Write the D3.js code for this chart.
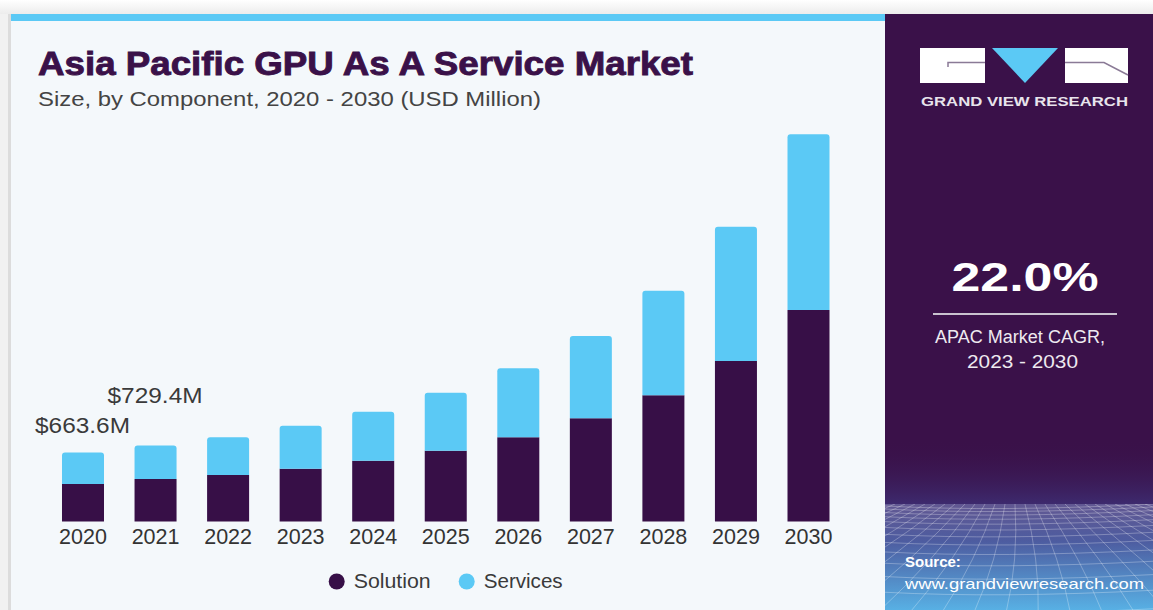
<!DOCTYPE html>
<html>
<head>
<meta charset="utf-8">
<script src="https://cdn.jsdelivr.net/npm/d3@7"></script>
<style>
  html, body { margin: 0; padding: 0; background: #ffffff; }
  svg { display: block; }
</style>
</head>
<body>
<svg id="chart" width="1153" height="610"></svg>
<script>
// ---- Data ----
const years = ["2020","2021","2022","2023","2024","2025","2026","2027","2028","2029","2030"];
const solution = [360, 408, 446, 507, 584, 680, 808, 991, 1212, 1541, 2030];
const services = [303.6, 321.4, 362, 413, 470, 556, 663, 790, 1004, 1289, 1687];
const seriesNames = ["Solution", "Services"];
const totalLabels = ["$663.6M", "$729.4M"];
const title = "Asia Pacific GPU As A Service Market";
const subtitle = "Size, by Component, 2020 - 2030 (USD Million)";
const cagrValue = "22.0%";
const cagrText = ["APAC Market CAGR,", "2023 - 2030"];
const brand = "GRAND VIEW RESEARCH";
const sourceLines = ["Source:", "www.grandviewresearch.com"];

const C_SOL = "#370f47";
const C_SER = "#5bc9f5";
const C_PANEL = "#3a1149";

const svg = d3.select("#chart");
const defs = svg.append("defs");

// outer background / shadow
const sh = defs.append("linearGradient").attr("id","topShade").attr("x1",0).attr("y1",0).attr("x2",0).attr("y2",1);
sh.append("stop").attr("offset","0%").attr("stop-color","#ffffff");
sh.append("stop").attr("offset","100%").attr("stop-color","#ececec");
svg.append("rect").attr("x",0).attr("y",0).attr("width",1153).attr("height",610).attr("fill","#ffffff");
svg.append("rect").attr("x",0).attr("y",0).attr("width",1153).attr("height",14).attr("fill","url(#topShade)");
svg.append("rect").attr("x",0).attr("y",14).attr("width",10).attr("height",596).attr("fill","#f1f1f1");
svg.append("rect").attr("x",8).attr("y",14).attr("width",3).attr("height",596).attr("fill","#dcdcdc");

// card
svg.append("rect").attr("x",11).attr("y",14).attr("width",874).attr("height",596).attr("fill","#f4f8fb");
svg.append("rect").attr("x",11).attr("y",14).attr("width",874).attr("height",7).attr("fill",C_SER);

// right panel
svg.append("rect").attr("x",885).attr("y",14).attr("width",268).attr("height",596).attr("fill",C_PANEL);
const pg = defs.append("linearGradient").attr("id","panelGrad").attr("x1",0).attr("y1",0).attr("x2",0).attr("y2",1);
pg.append("stop").attr("offset","0%").attr("stop-color","#3a1149").attr("stop-opacity",0);
pg.append("stop").attr("offset","100%").attr("stop-color","#3d2a6e").attr("stop-opacity",1);
svg.append("rect").attr("x",885).attr("y",440).attr("width",268).attr("height",64).attr("fill","url(#panelGrad)");
const bg = defs.append("linearGradient").attr("id","bottomGrad").attr("x1",0).attr("y1",0).attr("x2",0).attr("y2",1);
bg.append("stop").attr("offset","0%").attr("stop-color","#625892");
bg.append("stop").attr("offset","35%").attr("stop-color","#4d5ca0");
bg.append("stop").attr("offset","100%").attr("stop-color","#58b0e4");
svg.append("rect").attr("x",885).attr("y",504).attr("width",268).attr("height",106).attr("fill","url(#bottomGrad)");
// decorative perspective grid
const blur = defs.append("filter").attr("id","soft");
blur.append("feGaussianBlur").attr("stdDeviation",0.5);
const grid = svg.append("g").attr("stroke","#ffffff").attr("stroke-opacity",0.28).attr("fill","none").attr("stroke-width",1).attr("filter","url(#soft)");
const clip = defs.append("clipPath").attr("id","gridClip");
clip.append("rect").attr("x",885).attr("y",504).attr("width",268).attr("height",106);
grid.attr("clip-path","url(#gridClip)");
let yy = 506, gap = 3;
while (yy < 612) {
  grid.append("path").attr("d", `M885,${yy} Q1000,${yy+6} 1153,${yy-2}`);
  yy += gap; gap *= 1.18;
}
for (let i = -20; i <= 40; i++) {
  const xt = 885 + i * 10;
  const xb = 1019 + (xt - 1019) * 3.2;
  grid.append("path").attr("d", `M${xt},504 Q${(xt+xb)/2+8},560 ${xb},612`);
}

// ---- Title ----
svg.append("text").attr("x",38).attr("y",75).text(title)
  .attr("font-family","'Liberation Sans Narrow','Arial Narrow','Liberation Sans',sans-serif")
  .attr("font-weight","bold").attr("font-size",33).attr("fill","#3a1149")
  .attr("stroke","#3a1149").attr("stroke-width",0.9)
  .attr("textLength",655).attr("lengthAdjust","spacingAndGlyphs");
svg.append("text").attr("x",38).attr("y",106).text(subtitle)
  .attr("font-family","'Liberation Sans Narrow','Arial Narrow','Liberation Sans',sans-serif")
  .attr("font-size",20).attr("fill","#444444")
  .attr("textLength",503).attr("lengthAdjust","spacingAndGlyphs");

// ---- Scales ----
const x = d3.scaleBand().domain(years).range([31.45, 860.05]).paddingInner(0.421).paddingOuter(0.421);
const y = d3.scaleLinear().domain([0, 4000]).range([521.5, 521.5 - 4000/9.6]);

const stackData = years.map((yr, i) => ({year: yr, Solution: solution[i], Services: services[i]}));
const stack = d3.stack().keys(seriesNames)(stackData);
const colors = {Solution: C_SOL, Services: C_SER};

function topRounded(x0, y0, w, h, r) {
  r = Math.min(r, h, w/2);
  return `M${x0},${y0+h} V${y0+r} Q${x0},${y0} ${x0+r},${y0} H${x0+w-r} Q${x0+w},${y0} ${x0+w},${y0+r} V${y0+h} Z`;
}

const bars = svg.append("g");
stack.forEach(layer => {
  const key = layer.key;
  bars.selectAll(null).data(layer).enter().append("path")
    .attr("fill", colors[key])
    .attr("d", d => {
      const x0 = x(d.data.year), w = x.bandwidth();
      const yTop = y(d[1]), yBot = y(d[0]);
      return key === "Services" ? topRounded(x0, yTop, w, yBot - yTop, 3)
                                : `M${x0},${yBot} V${yTop} H${x0+w} V${yBot} Z`;
    });
});

// total labels for first two years
const labelOffsets = [{dx: -48, dy: -19}, {dx: -48, dy: -43}];
totalLabels.forEach((lab, i) => {
  const tot = solution[i] + services[i];
  svg.append("text")
    .attr("x", x(years[i]) + x.bandwidth()/2 + labelOffsets[i].dx)
    .attr("y", y(tot) + labelOffsets[i].dy)
    .text(lab)
    .attr("font-family","'Liberation Sans',Arial,sans-serif")
    .attr("font-size",22).attr("fill","#3a3a3a")
    .attr("textLength",95).attr("lengthAdjust","spacingAndGlyphs");
});

// x axis labels
const xAxis = d3.axisBottom(x).tickSize(0).tickPadding(0);
const ax = svg.append("g").attr("transform","translate(0,529)").call(xAxis);
ax.select(".domain").remove();
ax.selectAll("text")
  .attr("font-family","'Liberation Sans',Arial,sans-serif")
  .attr("font-size",21.5).attr("fill","#333333").attr("dy","0.71em");

// legend
const legend = svg.append("g");
const legX = [336.7, 466.7];
const legW = [77, 79];
seriesNames.forEach((nm, i) => {
  legend.append("circle").attr("cx",legX[i]).attr("cy",581.5).attr("r",8).attr("fill",colors[nm]);
  legend.append("text").attr("x",legX[i]+17).attr("y",588).text(nm)
    .attr("font-family","'Liberation Sans',Arial,sans-serif")
    .attr("font-size",20).attr("fill","#3a3a3a")
    .attr("textLength",legW[i]).attr("lengthAdjust","spacingAndGlyphs");
});

// ---- Logo ----
const logo = svg.append("g");
logo.append("rect").attr("x",920).attr("y",48).attr("width",65).attr("height",35).attr("fill","#ffffff");
logo.append("path").attr("d","M992,48 H1058 L1025,83 Z").attr("fill",C_SER);
logo.append("rect").attr("x",1065).attr("y",48).attr("width",63).attr("height",35).attr("fill","#ffffff");
logo.append("path").attr("d","M948,67 V62.5 H985").attr("stroke","#8a7a96").attr("stroke-width",1.5).attr("fill","none");
logo.append("path").attr("d","M1065,62.5 H1104 L1128,75").attr("stroke","#8a7a96").attr("stroke-width",1.5).attr("fill","none");
svg.append("text").attr("x",921).attr("y",106).text(brand)
  .attr("font-family","'Liberation Sans',Arial,sans-serif").attr("font-weight","bold")
  .attr("font-size",13.5).attr("fill","#e8e4ec")
  .attr("textLength",207).attr("lengthAdjust","spacingAndGlyphs");

// ---- CAGR ----
svg.append("text").attr("x",1025).attr("y",291).attr("text-anchor","middle").text(cagrValue)
  .attr("font-family","'Liberation Sans',Arial,sans-serif").attr("font-weight","bold")
  .attr("font-size",40).attr("fill","#ffffff")
  .attr("textLength",147).attr("lengthAdjust","spacingAndGlyphs");
svg.append("line").attr("x1",933).attr("x2",1117).attr("y1",314).attr("y2",314)
  .attr("stroke","#c9c2cf").attr("stroke-width",2);
svg.append("text").attr("x",1020).attr("y",342.5).attr("text-anchor","middle").text(cagrText[0])
  .attr("font-family","'Liberation Sans',Arial,sans-serif").attr("font-size",18).attr("fill","#eeeaf0")
  .attr("textLength",170).attr("lengthAdjust","spacingAndGlyphs");
svg.append("text").attr("x",1022.5).attr("y",368).attr("text-anchor","middle").text(cagrText[1])
  .attr("font-family","'Liberation Sans',Arial,sans-serif").attr("font-size",18).attr("fill","#eeeaf0")
  .attr("textLength",111).attr("lengthAdjust","spacingAndGlyphs");

// ---- Source ----
svg.append("text").attr("x",905).attr("y",567).text(sourceLines[0])
  .attr("font-family","'Liberation Sans',Arial,sans-serif").attr("font-weight","bold")
  .attr("font-size",15).attr("fill","#ffffff");
svg.append("text").attr("x",905).attr("y",589).text(sourceLines[1])
  .attr("font-family","'Liberation Sans',Arial,sans-serif")
  .attr("font-size",15).attr("fill","#ffffff")
  .attr("textLength",239).attr("lengthAdjust","spacingAndGlyphs");
</script>
</body>
</html>
